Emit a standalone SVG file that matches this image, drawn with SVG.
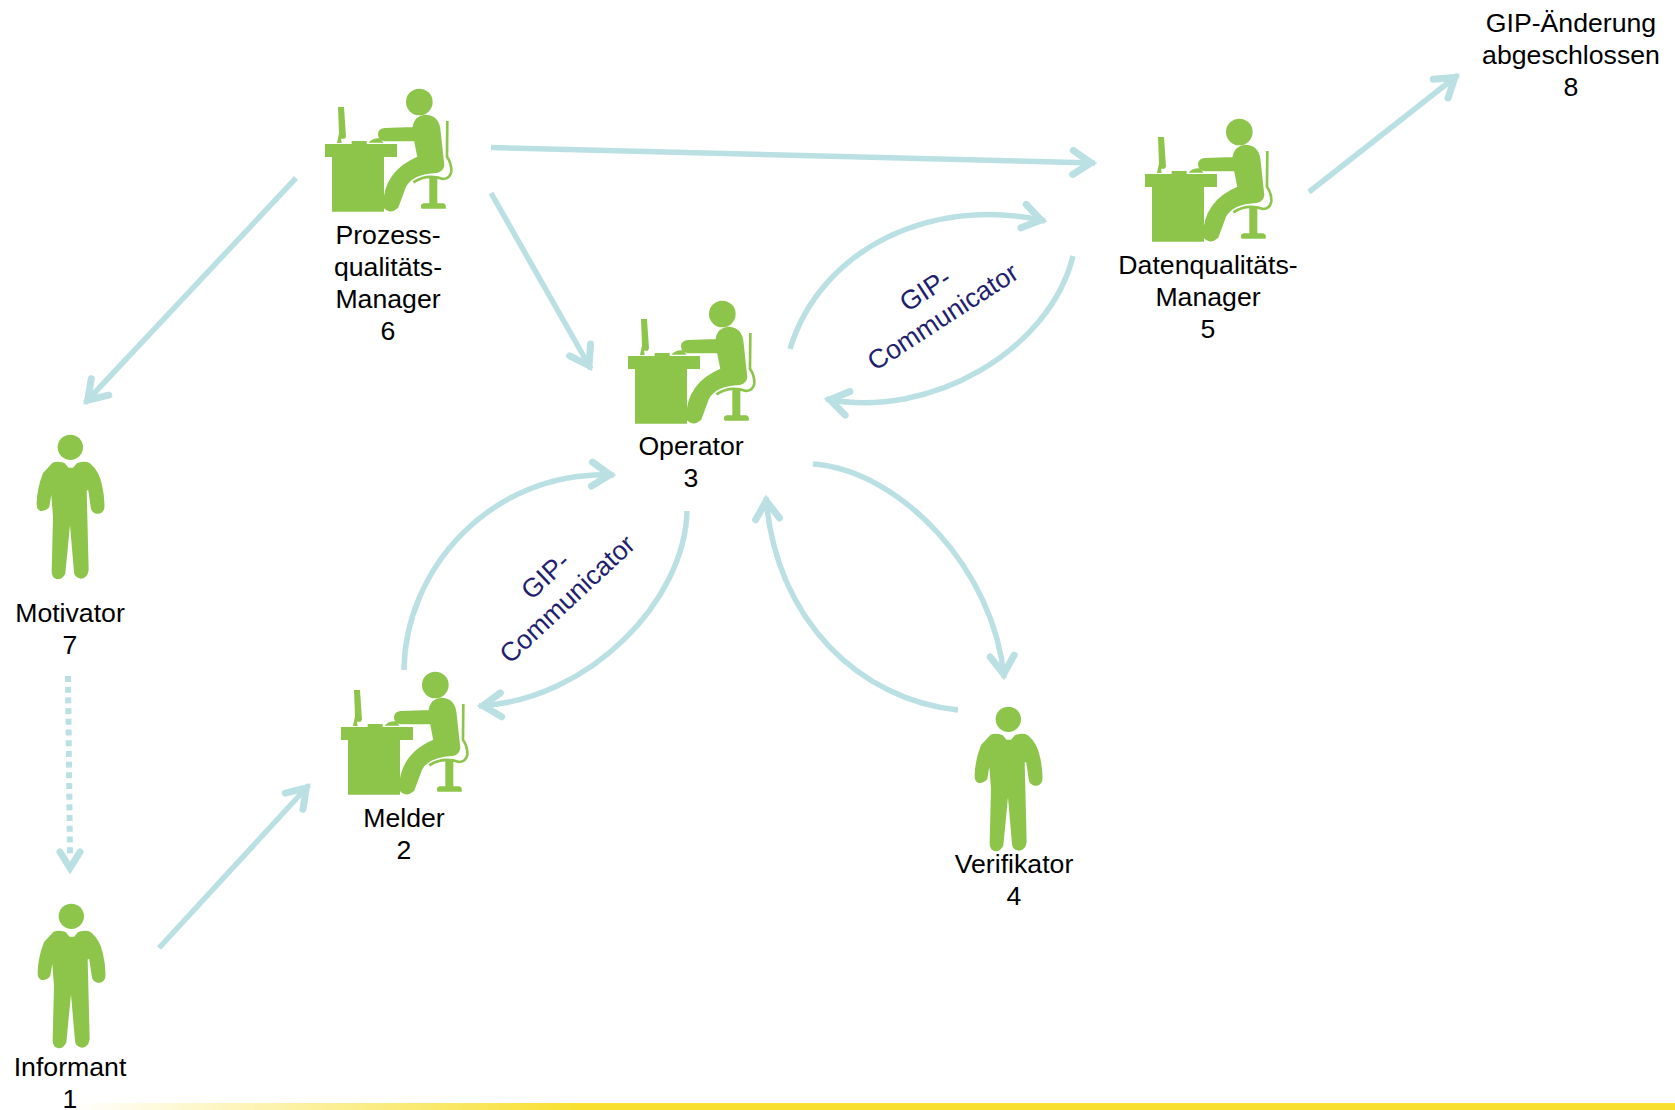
<svg xmlns="http://www.w3.org/2000/svg" width="1675" height="1110" viewBox="0 0 1675 1110">
<style>
text{font-family:"Liberation Sans",Arial,sans-serif;font-size:26.67px;fill:#000;text-anchor:middle}
.gip{fill:#1f1f6e}
.c{fill:none;stroke:#bbe0e4;stroke-width:5.5;marker-end:url(#a)}
.g{fill:#8dc54b}
.b{stroke:#8dc54b;stroke-width:6;stroke-linejoin:round}
</style>
<defs>
<linearGradient id="bar" x1="0" x2="1" y1="0" y2="0"><stop offset="0" stop-color="#f8df2e" stop-opacity="0"/><stop offset=".32" stop-color="#f8df2e"/><stop offset="1" stop-color="#f8df2e"/></linearGradient>
<marker id="a" markerUnits="userSpaceOnUse" markerWidth="40" markerHeight="40" refX="34" refY="20" orient="auto" overflow="visible"><path d="M12,8 L30,20 L12,32" fill="none" stroke="#bbe0e4" stroke-width="7" stroke-linecap="round"/></marker>
<g id="desk" class="g" transform="scale(.3333)">
<circle cx="328" cy="96" r="40"/>
<path class="b" d="M207,192 Q208,178 225,177 L310,174 Q315,140 345,137 Q382,138 388,175 L400,285 Q398,303 380,306 C335,308 300,320 285,350 L262,412 Q240,432 222,410 C222,350 245,295 325,262 L315,210 L225,211 Q207,208 207,192Z"/>
<path d="M45,222H261V261H222V425H66V261H45Z"/>
<path d="M84,111H102L108,200L104,206H93L95,219H81L87,190Z"/>
<path d="M125,213H170V222H125ZM175,218Q190,203 210,205L221,218Z"/>
<path d="M412,153L411,260Q425,280 424,305Q420,325 400,327Q350,310 310,337" fill="none" stroke="#8dc54b" stroke-width="8"/>
<path d="M358,322H382V400H400Q410,403 407,416H335Q328,405 340,400H358Z"/>
</g>
<g id="man" class="g" transform="scale(.3333)">
<circle cx="151" cy="82" r="38"/>
<path class="b" d="M100,130Q115,125 132,132L144,146H161L173,132Q195,124 208,132Q235,155 243,195Q252,235 250,265Q245,280 230,278Q216,275 215,260L207,205L197,210L203,450Q200,473 183,473Q165,470 165,455L152,305H148L133,460Q125,476 112,475Q98,470 98,455L102,290L95,200L85,260Q75,272 62,270Q52,266 53,250Q54,205 72,160Z"/>
</g>
</defs>
<rect x="70" y="1103" width="1605" height="7" fill="url(#bar)"/>
<g id="connectors">
<path class="c" d="M491,147.500L1095,163"/>
<path class="c" d="M296,178L85,403"/>
<path class="c" d="M491,193L591,369"/>
<path class="c" d="M1309,192L1458,75"/>
<path class="c" d="M790,349C820,250 930,195 1045,221"/>
<path class="c" d="M1073,256C1050,350 930,420 826,399"/>
<path class="c" d="M813,464C900,470 995,570 1004,678"/>
<path class="c" d="M958,710C860,700 775,620 766,497"/>
<path class="c" d="M687,511C685,600 590,700 479,706"/>
<path class="c" d="M404,670C405,570 490,470 614,475"/>
<path class="c" d="M159,948L309,785"/>
<path d="M68,676L70,856" fill="none" stroke="#bbe0e4" stroke-width="6" stroke-dasharray="6 4.700"/>
<path d="M60,852L70,868L80,852" fill="none" stroke="#bbe0e4" stroke-width="7" stroke-linecap="round"/>
</g>
<g id="node6"><use href="#desk" x="310" y="70"/><text><tspan x="388" y="244">Prozess-</tspan><tspan x="388" y="276">qualitäts-</tspan><tspan x="388" y="308">Manager</tspan><tspan x="388" y="340">6</tspan></text></g>
<g id="node3"><use href="#desk" x="613" y="282"/><text><tspan x="691" y="455">Operator</tspan><tspan x="691" y="487">3</tspan></text></g>
<g id="node5"><use href="#desk" x="1130" y="100"/><text><tspan x="1208" y="274">Datenqualitäts-</tspan><tspan x="1208" y="306">Manager</tspan><tspan x="1208" y="338">5</tspan></text></g>
<g id="node2"><use href="#desk" x="326" y="653"/><text><tspan x="404" y="827">Melder</tspan><tspan x="404" y="859">2</tspan></text></g>
<g id="node7"><use href="#man" x="20" y="420"/><text><tspan x="70" y="622">Motivator</tspan><tspan x="70" y="654">7</tspan></text></g>
<g id="node1"><use href="#man" x="21" y="889"/><text><tspan x="70" y="1076">Informant</tspan><tspan x="70" y="1108">1</tspan></text></g>
<g id="node4"><use href="#man" x="958" y="692"/><text><tspan x="1014" y="873">Verifikator</tspan><tspan x="1014" y="905">4</tspan></text></g>
<g id="node8"><text><tspan x="1571" y="32">GIP-Änderung</tspan><tspan x="1571" y="64">abgeschlossen</tspan><tspan x="1571" y="96">8</tspan></text></g>
<g id="label-a"><text class="gip" transform="translate(939,311) rotate(-33)"><tspan x="0" y="-16">GIP-</tspan><tspan x="0" y="16">Communicator</tspan></text></g>
<g id="label-b"><text class="gip" transform="translate(562.500,594) rotate(-43)"><tspan x="0" y="-16">GIP-</tspan><tspan x="0" y="16">Communicator</tspan></text></g>
</svg>
